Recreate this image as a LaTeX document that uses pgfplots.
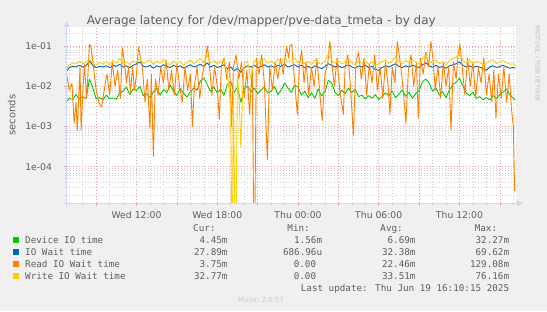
\documentclass[border=0pt]{standalone}
\usepackage{pgfplots}
\pgfplotsset{compat=1.18}
\usepackage{fontspec}
\setmainfont{DejaVu Sans}
\newfontfamily\monofont{DejaVu Sans Mono}
\definecolor{bg}{HTML}{F0F0F0}
\definecolor{fontc}{HTML}{5E5E5E}
\definecolor{axisc}{HTML}{CFD6F8}
\definecolor{mgrid}{HTML}{E8A4A4}
\definecolor{gridc}{HTML}{D0D0D0}
\definecolor{cdev}{HTML}{00CC00}
\definecolor{cwait}{HTML}{0066B3}
\definecolor{cread}{HTML}{FF8000}
\definecolor{cwrite}{HTML}{FFCC00}
\begin{document}
\begin{tikzpicture}[x=1bp,y=1bp]
\fill[bg] (0,0) rectangle (547,311);
\useasboundingbox (0,0) rectangle (547,311);
\begin{axis}[
  at={(66.7bp,107.7bp)}, anchor=south west,
  scale only axis, width=448.9bp, height=176bp,
  xmin=6.81, xmax=40.17,
  ymode=log, ymin=1.23e-5, ymax=0.29,
  axis background/.style={fill=white},
  axis line style={draw=none},
  xtick={9,12,...,39},
  xticklabels={,Wed 12:00,,Wed 18:00,,Thu 00:00,,Thu 06:00,,Thu 12:00,},
  minor xtick={7,8,...,40},
  ytick={1e-4,1e-3,1e-2,1e-1},
  yticklabels={1e-04,1e-03,1e-02,1e-01},
  minor ytick={2e-5,3e-5,4e-5,5e-5,6e-5,7e-5,8e-5,9e-5,2e-4,3e-4,4e-4,5e-4,6e-4,7e-4,8e-4,9e-4,2e-3,3e-3,4e-3,5e-3,6e-3,7e-3,8e-3,9e-3,2e-2,3e-2,4e-2,5e-2,6e-2,7e-2,8e-2,9e-2,2e-1},
  grid=both,
  major grid style={draw=mgrid, dash pattern=on 1bp off 2bp, line width=0.6bp},
  minor grid style={draw=gridc, dash pattern=on 1bp off 2bp, line width=0.6bp},
  tick pos=left, tick align=outside,
  major tick length=2.5bp, minor tick length=2bp,
  major tick style={draw=mgrid, line width=0.6bp},
  minor tick style={draw=gridc, line width=0.6bp},
  ticklabel style={font=\fontsize{9.3}{11}\selectfont, text=fontc},
  xticklabel style={anchor=north, inner sep=0pt, yshift=-5.5bp},
  yticklabel style={anchor=east, inner sep=0pt, xshift=-12bp},
  every axis plot/.append style={line width=0.9bp, line join=round},
]
\addplot[cdev] coordinates {(6.82,0.0042)(7.0,0.0050)(7.25,0.0047)(7.5,0.0062)(7.75,0.0048)(8.0,0.0055)(8.25,0.0049)(8.5,0.0150)(8.75,0.0092)(9.0,0.0048)(9.25,0.0052)(9.5,0.0046)(9.75,0.0060)(10.0,0.0049)(10.25,0.0051)(10.5,0.0047)(10.75,0.0068)(11.0,0.0075)(11.25,0.0095)(11.5,0.0062)(11.75,0.0085)(12.0,0.0078)(12.25,0.0100)(12.5,0.0058)(12.75,0.0065)(13.0,0.0052)(13.25,0.0072)(13.5,0.0090)(13.75,0.0060)(14.0,0.0082)(14.25,0.0070)(14.5,0.0105)(14.75,0.0075)(15.0,0.0058)(15.25,0.0088)(15.5,0.0066)(15.75,0.0054)(16.0,0.0072)(16.25,0.0090)(16.5,0.0080)(16.75,0.0135)(17.0,0.0160)(17.25,0.0110)(17.5,0.0075)(17.75,0.0095)(18.0,0.0068)(18.25,0.0085)(18.5,0.0060)(18.75,0.0110)(19.0,0.0130)(19.25,0.0070)(19.5,0.0095)(19.75,0.0040)(20.0,0.0085)(20.25,0.0100)(20.5,0.0072)(20.75,0.0090)(21.0,0.0065)(21.25,0.0080)(21.5,0.0095)(21.75,0.0068)(22.0,0.0075)(22.25,0.0100)(22.5,0.0062)(22.75,0.0080)(23.0,0.0120)(23.25,0.0090)(23.5,0.0070)(23.75,0.0105)(24.0,0.0095)(24.25,0.0060)(24.5,0.0075)(24.75,0.0052)(25.0,0.0068)(25.25,0.0050)(25.5,0.0085)(25.75,0.0058)(26.0,0.0072)(26.25,0.0140)(26.5,0.0120)(26.75,0.0070)(27.0,0.0058)(27.25,0.0080)(27.5,0.0065)(27.75,0.0090)(28.0,0.0070)(28.25,0.0082)(28.5,0.0055)(28.75,0.0060)(29.0,0.0048)(29.25,0.0058)(29.5,0.0050)(29.75,0.0062)(30.0,0.0047)(30.25,0.0055)(30.5,0.0068)(30.75,0.0058)(31.0,0.0075)(31.25,0.0052)(31.5,0.0064)(31.75,0.0080)(32.0,0.0056)(32.25,0.0070)(32.5,0.0050)(32.75,0.0066)(33.0,0.0078)(33.25,0.0130)(33.5,0.0150)(33.75,0.0120)(34.0,0.0075)(34.25,0.0090)(34.5,0.0060)(34.75,0.0072)(35.0,0.0052)(35.25,0.0080)(35.5,0.0110)(35.75,0.0125)(36.0,0.0160)(36.25,0.0100)(36.5,0.0068)(36.75,0.0058)(37.0,0.0070)(37.25,0.0050)(37.5,0.0055)(37.75,0.0046)(38.0,0.0052)(38.25,0.0045)(38.5,0.0058)(38.75,0.0050)(39.0,0.0062)(39.25,0.0072)(39.5,0.0085)(39.75,0.0060)(40.0,0.0050)(40.15,0.0045)};
\addplot[cwait] coordinates {(6.82,0.024)(7.0,0.029)(7.25,0.031)(7.5,0.030)(7.75,0.033)(8.0,0.030)(8.25,0.032)(8.5,0.042)(8.75,0.033)(9.0,0.029)(9.25,0.031)(9.5,0.030)(9.75,0.032)(10.0,0.029)(10.25,0.033)(10.5,0.031)(10.75,0.035)(11.0,0.030)(11.25,0.032)(11.5,0.029)(11.75,0.033)(12.0,0.036)(12.25,0.040)(12.5,0.031)(12.75,0.030)(13.0,0.033)(13.25,0.028)(13.5,0.032)(13.75,0.030)(14.0,0.034)(14.25,0.031)(14.5,0.029)(14.75,0.033)(15.0,0.030)(15.25,0.032)(15.5,0.028)(15.75,0.031)(16.0,0.034)(16.25,0.030)(16.5,0.032)(16.75,0.035)(17.0,0.031)(17.25,0.038)(17.5,0.030)(17.75,0.033)(18.0,0.029)(18.25,0.031)(18.5,0.034)(18.75,0.027)(19.0,0.030)(19.25,0.024)(19.5,0.028)(19.75,0.022)(20.0,0.029)(20.25,0.032)(20.5,0.030)(20.75,0.033)(21.0,0.029)(21.25,0.031)(21.5,0.034)(21.75,0.030)(22.0,0.032)(22.25,0.029)(22.5,0.033)(22.75,0.031)(23.0,0.035)(23.25,0.030)(23.5,0.032)(23.75,0.034)(24.0,0.030)(24.25,0.033)(24.5,0.029)(24.75,0.031)(25.0,0.028)(25.25,0.032)(25.5,0.030)(25.75,0.027)(26.0,0.031)(26.25,0.036)(26.5,0.033)(26.75,0.030)(27.0,0.032)(27.25,0.029)(27.5,0.031)(27.75,0.034)(28.0,0.030)(28.25,0.028)(28.5,0.032)(28.75,0.030)(29.0,0.033)(29.25,0.029)(29.5,0.031)(29.75,0.026)(30.0,0.025)(30.25,0.029)(30.5,0.032)(30.75,0.030)(31.0,0.033)(31.25,0.036)(31.5,0.031)(31.75,0.029)(32.0,0.032)(32.25,0.030)(32.5,0.033)(32.75,0.031)(33.0,0.029)(33.25,0.034)(33.5,0.038)(33.75,0.032)(34.0,0.030)(34.25,0.033)(34.5,0.029)(34.75,0.031)(35.0,0.028)(35.25,0.032)(35.5,0.034)(35.75,0.036)(36.0,0.040)(36.25,0.033)(36.5,0.030)(36.75,0.032)(37.0,0.029)(37.25,0.031)(37.5,0.030)(37.75,0.027)(38.0,0.025)(38.25,0.030)(38.5,0.032)(38.75,0.029)(39.0,0.031)(39.25,0.033)(39.5,0.030)(39.75,0.028)(40.0,0.029)(40.15,0.028)};
\addplot[cread] coordinates {(6.82,0.018)(7.0,0.008)(7.2,0.012)(7.36,0.0012)(7.5,0.004)(7.6,0.0008)(7.8,0.03)(7.88,0.0008)(8.0,0.006)(8.12,0.035)(8.3,0.005)(8.5,0.11)(8.6,0.10)(8.8,0.03)(9.0,0.008)(9.2,0.004)(9.4,0.003)(9.6,0.008)(9.8,0.02)(10.0,0.006)(10.2,0.04)(10.4,0.01)(10.6,0.025)(10.8,0.005)(10.95,0.09)(11.1,0.04)(11.25,0.012)(11.4,0.03)(11.55,0.007)(11.7,0.03)(11.85,0.008)(12.0,0.02)(12.14,0.095)(12.3,0.05)(12.45,0.025)(12.63,0.004)(12.8,0.015)(13.0,0.0009)(13.1,0.02)(13.25,0.00018)(13.4,0.015)(13.6,0.006)(13.8,0.03)(14.0,0.012)(14.2,0.045)(14.4,0.008)(14.6,0.025)(14.8,0.006)(15.0,0.035)(15.2,0.01)(15.4,0.004)(15.6,0.03)(15.8,0.008)(16.0,0.02)(16.15,0.001)(16.3,0.01)(16.5,0.03)(16.7,0.005)(16.9,0.02)(17.1,0.04)(17.26,0.10)(17.4,0.04)(17.6,0.006)(17.8,0.03)(18.0,0.01)(18.15,0.0015)(18.3,0.03)(18.5,0.05)(18.7,0.015)(18.9,0.04)(19.07,0.001)(19.2,0.03)(19.4,0.06)(19.6,0.015)(19.8,0.04)(20.0,0.005)(20.2,0.025)(20.4,0.002)(20.6,0.03)(20.75,1e-7)(20.9,0.05)(21.1,0.02)(21.3,0.06)(21.5,0.012)(21.72,0.00015)(21.9,0.03)(22.1,0.008)(22.3,0.04)(22.5,0.015)(22.7,0.05)(22.9,0.02)(23.15,0.10)(23.3,0.05)(23.4,0.10)(23.53,0.11)(23.7,0.02)(23.95,0.002)(24.1,0.03)(24.27,0.08)(24.45,0.012)(24.6,0.04)(24.8,0.006)(25.0,0.03)(25.2,0.01)(25.4,0.05)(25.6,0.008)(25.8,0.0014)(26.0,0.02)(26.2,0.035)(26.37,0.13)(26.5,0.04)(26.7,0.01)(26.9,0.05)(27.1,0.008)(27.37,0.002)(27.5,0.03)(27.7,0.06)(27.9,0.01)(28.11,0.0006)(28.3,0.04)(28.5,0.07)(28.7,0.015)(28.9,0.05)(29.1,0.006)(29.3,0.035)(29.5,0.012)(29.7,0.06)(29.9,0.008)(30.1,0.03)(30.3,0.005)(30.5,0.04)(30.7,0.01)(30.83,0.002)(31.0,0.03)(31.2,0.012)(31.38,0.13)(31.55,0.05)(31.7,0.02)(31.85,0.006)(32.02,0.0012)(32.2,0.025)(32.4,0.06)(32.6,0.01)(32.8,0.04)(32.94,0.0016)(33.1,0.05)(33.3,0.02)(33.5,0.07)(33.7,0.03)(33.88,0.13)(34.05,0.04)(34.2,0.008)(34.4,0.03)(34.6,0.005)(34.8,0.04)(35.0,0.01)(35.2,0.03)(35.37,0.0008)(35.55,0.04)(35.75,0.015)(35.9,0.06)(36.03,0.11)(36.2,0.03)(36.4,0.006)(36.6,0.05)(36.8,0.01)(37.0,0.04)(37.2,0.005)(37.4,0.03)(37.6,0.012)(37.8,0.05)(38.0,0.006)(38.2,0.02)(38.4,0.004)(38.55,0.025)(38.71,0.0016)(38.9,0.02)(39.1,0.005)(39.3,0.03)(39.5,0.004)(39.7,0.02)(39.85,0.003)(40.0,0.001)(40.1,2.5e-5)};
\addplot[cwrite] coordinates {(6.82,0.028)(7.0,0.033)(7.25,0.038)(7.5,0.035)(7.75,0.042)(8.0,0.036)(8.25,0.040)(8.5,0.046)(8.75,0.037)(9.0,0.033)(9.25,0.039)(9.5,0.035)(9.75,0.041)(10.0,0.034)(10.25,0.044)(10.5,0.037)(10.75,0.048)(11.0,0.036)(11.25,0.040)(11.5,0.034)(11.75,0.043)(12.0,0.039)(12.25,0.050)(12.5,0.036)(12.75,0.041)(13.0,0.045)(13.25,0.035)(13.5,0.042)(13.75,0.037)(14.0,0.046)(14.25,0.038)(14.5,0.034)(14.75,0.043)(15.0,0.036)(15.25,0.041)(15.5,0.033)(15.75,0.039)(16.0,0.045)(16.25,0.036)(16.5,0.042)(16.75,0.048)(17.0,0.038)(17.25,0.060)(17.5,0.037)(17.75,0.044)(18.0,0.035)(18.25,0.041)(18.5,0.046)(18.75,0.020)(19.0,0.0035)(19.1,1e-7)(19.2,0.012)(19.35,1e-7)(19.5,0.018)(19.6,0.008)(19.75,0.0003)(19.9,0.010)(20.0,0.035)(20.25,0.042)(20.5,0.015)(20.75,0.045)(21.0,0.036)(21.25,0.041)(21.5,0.048)(21.75,0.037)(22.0,0.043)(22.25,0.035)(22.5,0.047)(22.75,0.039)(23.0,0.052)(23.25,0.040)(23.5,0.044)(23.75,0.050)(24.0,0.038)(24.25,0.043)(24.5,0.036)(24.75,0.041)(25.0,0.034)(25.25,0.045)(25.5,0.038)(25.75,0.035)(26.0,0.042)(26.25,0.062)(26.5,0.045)(26.75,0.037)(27.0,0.043)(27.25,0.036)(27.5,0.040)(27.75,0.048)(28.0,0.038)(28.25,0.034)(28.5,0.044)(28.75,0.037)(29.0,0.042)(29.25,0.035)(29.5,0.040)(29.75,0.033)(30.0,0.036)(30.25,0.041)(30.5,0.045)(30.75,0.037)(31.0,0.043)(31.25,0.055)(31.5,0.040)(31.75,0.036)(32.0,0.044)(32.25,0.038)(32.5,0.046)(32.75,0.039)(33.0,0.035)(33.25,0.047)(33.5,0.058)(33.75,0.042)(34.0,0.037)(34.25,0.045)(34.5,0.036)(34.75,0.040)(35.0,0.034)(35.25,0.043)(35.5,0.048)(35.75,0.052)(36.0,0.065)(36.25,0.044)(36.5,0.038)(36.75,0.045)(37.0,0.036)(37.25,0.041)(37.5,0.039)(37.75,0.034)(38.0,0.037)(38.25,0.042)(38.5,0.045)(38.75,0.036)(39.0,0.040)(39.25,0.043)(39.5,0.038)(39.75,0.035)(40.0,0.036)(40.15,0.033)};
\end{axis}
% axis lines with arrows
\draw[axisc, line width=1bp] (63,107.7) -- (518,107.7);
\fill[axisc] (517,104.7) -- (523,107.7) -- (517,110.7) -- cycle;
\draw[axisc, line width=1bp] (66.7,104.3) -- (66.7,285);
\fill[axisc] (63.7,284) -- (66.7,290) -- (69.7,284) -- cycle;
% title and labels
\node[anchor=base, inner sep=0, font=\fontsize{12}{14}\selectfont, text=fontc] at (261.3,287) {Average latency for /dev/mapper/pve-data\_tmeta - by day};
\node[rotate=90, anchor=center, inner sep=0, font=\fontsize{10}{12}\selectfont, text=fontc] at (11.7,196) {seconds};
\node[rotate=-90, anchor=center, inner sep=0, font=\fontsize{6}{7}\selectfont, text={rgb,255:red,190;green,190;blue,190}] at (537.5,247.5) {RRDTOOL / TOBI OETIKER};
% legend
\fill[cdev] (13.3,68.3) rectangle (18.7,73.7);
\fill[cwait] (13.3,56.3) rectangle (18.7,61.7);
\fill[cread] (13.3,44.3) rectangle (18.7,49.7);
\fill[cwrite] (13.3,32.3) rectangle (18.7,37.7);
\begin{scope}[every node/.style={inner sep=0, font=\monofont\fontsize{9.3}{11}\selectfont, text=fontc}]
\node[anchor=base west] at (25,68) {Device IO time};
\node[anchor=base west] at (25,56) {IO Wait time};
\node[anchor=base west] at (25,44) {Read IO Wait time};
\node[anchor=base west] at (25,32) {Write IO Wait time};
\node[anchor=base east] at (215.7,80) {Cur:};
\node[anchor=base east] at (310,80) {Min:};
\node[anchor=base east] at (403,80) {Avg:};
\node[anchor=base east] at (497.3,80) {Max:};
\node[anchor=base east] at (227.7,68) {4.45m};
\node[anchor=base east] at (322.3,68) {1.56m};
\node[anchor=base east] at (415.7,68) {6.69m};
\node[anchor=base east] at (509.3,68) {32.27m};
\node[anchor=base east] at (227.7,56) {27.89m};
\node[anchor=base east] at (322.3,56) {686.96u};
\node[anchor=base east] at (415.7,56) {32.38m};
\node[anchor=base east] at (509.3,56) {69.62m};
\node[anchor=base east] at (227.7,44) {3.75m};
\node[anchor=base east] at (316.3,44) {0.00};
\node[anchor=base east] at (415.7,44) {22.46m};
\node[anchor=base east] at (509.3,44) {129.08m};
\node[anchor=base east] at (227.7,32) {32.77m};
\node[anchor=base east] at (316.3,32) {0.00};
\node[anchor=base east] at (415.7,32) {33.51m};
\node[anchor=base east] at (509.3,32) {76.16m};
\node[anchor=base east] at (509.3,20) {Last update: Thu Jun 19 16:10:15 2025};
\end{scope}
\node[anchor=base, inner sep=0, font=\fontsize{7}{8}\selectfont, text={rgb,255:red,200;green,200;blue,200}] at (261,8.5) {Munin 2.0.57};
\end{tikzpicture}
\end{document}
